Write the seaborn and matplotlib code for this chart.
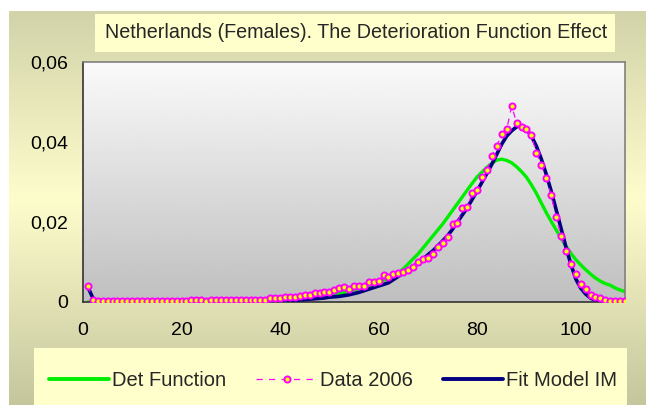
import numpy as np
import matplotlib
matplotlib.use("Agg")
import matplotlib.pyplot as plt
from matplotlib.patches import Rectangle
from matplotlib.lines import Line2D
import seaborn as sns

# ======= data =======
ages = list(range(1, 111))

data_2006 = ([0.0040, 0.0006] + [0.0002] * 19 +            # 1..21
             [0.0006, 0.0006, 0.0006, 0.0002] + [0.0006] * 12 +  # 22..37
             [0.0010, 0.0010, 0.0010, 0.0012, 0.0012, 0.0013, 0.0014,  # 38..44
              0.00175, 0.00175, 0.0022, 0.0022, 0.0026, 0.0026, 0.0030, 0.0034,
              0.0037, 0.0033, 0.0041, 0.0041, 0.0041, 0.0049, 0.0049, 0.0053,
              0.0068, 0.0063, 0.0070, 0.0073, 0.0076, 0.0080, 0.0087, 0.0099,
              0.0107, 0.0110, 0.0120, 0.0138, 0.0147, 0.0163, 0.0194, 0.0197,
              0.0234, 0.0237, 0.0272, 0.0280, 0.0313, 0.0330, 0.0365, 0.0390,
              0.0420, 0.0432, 0.0490, 0.0448, 0.0437, 0.0432, 0.0418, 0.0373,
              0.0343, 0.0309, 0.0268, 0.0213, 0.0166, 0.0128, 0.0095, 0.0069,
              0.0046, 0.0033, 0.0018, 0.0013, 0.0009, 0.0005, 0.0002, 0.0002,
              0.0002, 0.0002])

fit_model = ([0.0037, 0.0010, 0.0003] + [0.0001] * 27 + [0.0002] * 10 +  # 1..40
             [0.0003, 0.0003, 0.0004, 0.0005, 0.0006, 0.0007, 0.0008, 0.0009,
              0.0010, 0.0012, 0.0013, 0.0014, 0.0016, 0.0018, 0.0021, 0.0024,
              0.0028, 0.0032, 0.0036, 0.0040, 0.0044, 0.0048, 0.0056, 0.0064,
              0.0072, 0.0080, 0.0088, 0.0097, 0.0107, 0.0118, 0.0128, 0.0140,
              0.0153, 0.0166, 0.0182, 0.0200, 0.0218, 0.0236, 0.0257, 0.0278,
              0.0300, 0.0322, 0.0345, 0.0370, 0.0395, 0.0415, 0.0428, 0.0438,
              0.0440, 0.0432, 0.0415, 0.0390, 0.0358, 0.0320, 0.0278, 0.0232,
              0.0185, 0.0138, 0.0095, 0.0058, 0.0035, 0.0020, 0.0010, 0.0004,
              0.0001, 0.0, 0.0, 0.0, 0.0, 0.0])

det_function = ([0.0] * 30 + [0.0001] * 5 +                           # 1..35
                [0.0003, 0.0003, 0.0004, 0.0004, 0.0005,             # 36..40
                 0.0006, 0.0007, 0.0008, 0.0009, 0.0010, 0.0011, 0.0012, 0.0014,
                 0.0015, 0.0017, 0.0019, 0.0021, 0.0024, 0.0027, 0.0030, 0.0033,
                 0.0036, 0.0040, 0.0044, 0.0049, 0.0054, 0.0059, 0.0064, 0.0073,
                 0.0083, 0.0095, 0.0108, 0.0120, 0.0135, 0.0150, 0.0165, 0.0180,
                 0.0195, 0.0212, 0.0229, 0.0246, 0.0263, 0.0280, 0.0297, 0.0313,
                 0.0325, 0.0337, 0.0347, 0.0355, 0.0357, 0.0354, 0.0348, 0.0338,
                 0.0326, 0.0312, 0.0293, 0.0272, 0.0248, 0.0224, 0.0202, 0.0181,
                 0.0160, 0.0140, 0.0122, 0.0106, 0.0093, 0.0081, 0.0070, 0.0060,
                 0.0052, 0.0046, 0.0042, 0.0035, 0.0030, 0.0026])

title = 'Netherlands (Females). The Deterioration Function Effect'
x_ticks = [0, 20, 40, 60, 80, 100]
y_ticks = [0, 0.02, 0.04, 0.06]
y_labels = ['0', '0,02', '0,04', '0,06']
names = ['Det Function', 'Data 2006', 'Fit Model IM']

# ======= style =======
sns.set_style("white")
plt.rcParams['font.family'] = ['Liberation Sans', 'DejaVu Sans']

W, H = 646, 405
fig = plt.figure(figsize=(W / 100, H / 100), dpi=100)
fig.patch.set_facecolor('white')

# figure background gradient (khaki -> light yellow -> khaki)
bg = fig.add_axes([9 / W, 0, (W - 9) / W, (H - 11) / H], zorder=-10)
ys = np.linspace(11, 405, 200)
r = np.interp(ys, [11, 200, 405], [211, 253, 198])
g = np.interp(ys, [11, 200, 405], [211, 253, 198])
b = np.interp(ys, [11, 200, 405], [170, 204, 158])
grad = np.stack([r, g, b], axis=1)[:, None, :] / 255.0
bg.imshow(grad, aspect='auto', extent=[0, 1, 0, 1], origin='upper')
bg.axis('off')

# title box
fig.patches.append(Rectangle((95 / W, 1 - 52 / H), 520 / W, 38 / H,
                             transform=fig.transFigure, facecolor='#ffffcc',
                             edgecolor='none', zorder=1))
fig.text(356 / W, 1 - 33 / H, title, ha='center', va='center', fontsize=14.2, zorder=3)

# legend box
fig.patches.append(Rectangle((34 / W, 0), 593 / W, 57 / H,
                             transform=fig.transFigure, facecolor='#ffffcc',
                             edgecolor='none', zorder=1))

# ======= plot =======
ax = fig.add_axes([83 / W, (H - 302) / H, 542 / W, 240 / H])
ax.set_facecolor('none')
ax.imshow(np.linspace(0.75, 0.98, 100)[:, None], cmap='gray', vmin=0, vmax=1,
          aspect='auto', extent=[0, 110, 0.06, 0], origin='upper', zorder=0)

sns.lineplot(x=ages, y=det_function, ax=ax, color='#00ee00', lw=2.4, zorder=2, legend=False)
sns.lineplot(x=ages, y=fit_model, ax=ax, color='#000080', lw=2.6, zorder=3, legend=False)
sns.lineplot(x=ages, y=data_2006, ax=ax, color='#ff00ff', lw=0.9, linestyle=(0, (5, 5)),
             marker='o', markersize=4.4, markerfacecolor='#ffff00',
             markeredgecolor='#ff00ff', markeredgewidth=1.4, zorder=4, legend=False)

ax.set_xlim(0, 110)
ax.set_ylim(0, 0.06)
ax.set_xticks(x_ticks)
ax.set_xticklabels([str(t) for t in x_ticks])
ax.set_yticks(y_ticks)
ax.set_yticklabels(y_labels)
ax.tick_params(axis='both', direction='out', length=4.5, width=1, color='#222222',
               labelsize=14, labelcolor='black')
ax.tick_params(axis='x', pad=10)
ax.tick_params(axis='y', pad=6)
for side in ['left', 'bottom']:
    ax.spines[side].set_color('#333333')
    ax.spines[side].set_linewidth(1.2)
for side in ['top', 'right']:
    ax.spines[side].set_color('#808080')
    ax.spines[side].set_linewidth(1.2)
ax.set_xlabel('')
ax.set_ylabel('')

# legend
handles = [
    Line2D([], [], color='#00ee00', lw=2.8),
    Line2D([], [], color='#ff00ff', lw=0.9, linestyle=(0, (5, 5)), marker='o',
           markersize=4.4, markerfacecolor='#ffff00', markeredgecolor='#ff00ff',
           markeredgewidth=1.4),
    Line2D([], [], color='#000080', lw=2.8),
]
fig.legend(handles, names, loc='center', bbox_to_anchor=(333 / W, 1 - 381 / H),
           ncol=3, frameon=False, fontsize=14.5, handlelength=3.0,
           handletextpad=0.15, columnspacing=1.5, borderaxespad=0)

fig.savefig('out.png', dpi=100)
